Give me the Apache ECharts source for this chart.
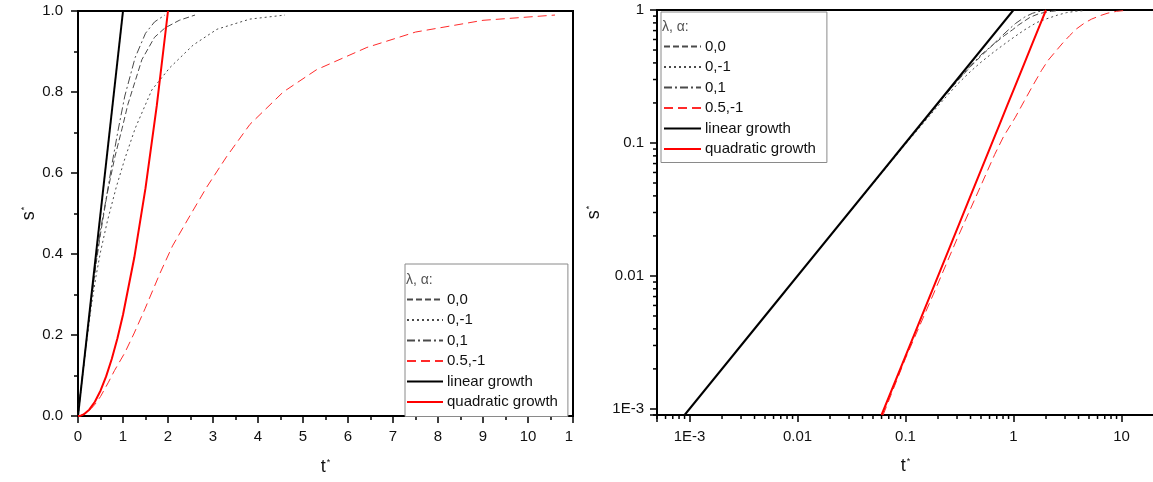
<!DOCTYPE html>
<html>
<head>
<meta charset="utf-8">
<script src="https://cdn.jsdelivr.net/npm/echarts@6/dist/echarts.min.js"></script>
<style>
  html, body { margin: 0; padding: 0; background: #fff; }
  #chart { width: 1153px; height: 482px; }
</style>
</head>
<body>
<div id="chart"></div>
<script>
// Front position s* against time t*, linear axes (left) and log-log axes (right)

const legendTitle = 'λ, α:';
const seriesNames = ['0,0', '0,-1', '0,1', '0.5,-1', 'linear growth', 'quadratic growth'];

// λ = 0, α = 0
const tL0A0 = [0, 0.0009, 0.01, 0.1, 0.2, 0.3, 0.4, 0.5, 0.65, 0.82, 0.98, 1.11, 1.42, 1.7, 1.93, 2.25, 2.6];
const sL0A0 = [0, 0.0009, 0.01, 0.1, 0.197, 0.29, 0.375, 0.45, 0.55, 0.64, 0.71, 0.77, 0.88, 0.935, 0.958, 0.977, 0.99];

// λ = 0, α = -1
const tL0Am1 = [0, 0.0009, 0.01, 0.1, 0.2, 0.3, 0.4, 0.5, 0.65, 0.85, 1.04, 1.27, 1.64, 2.04, 2.56, 3.09, 3.82, 4.6];
const sL0Am1 = [0, 0.0009, 0.01, 0.098, 0.19, 0.275, 0.345, 0.405, 0.48, 0.565, 0.635, 0.71, 0.805, 0.86, 0.916, 0.955, 0.98, 0.99];

// λ = 0, α = 1
const tL0A1 = [0, 0.0009, 0.01, 0.1, 0.2, 0.3, 0.4, 0.5, 0.64, 0.76, 0.89, 1.04, 1.27, 1.5, 1.7, 1.93];
const sL0A1 = [0, 0.0009, 0.01, 0.1, 0.198, 0.292, 0.38, 0.46, 0.545, 0.625, 0.705, 0.79, 0.885, 0.945, 0.973, 0.99];

// λ = 0.5, α = -1
const tL05Am1 = [0, 0.062, 0.1, 0.18, 0.3, 0.4, 0.5, 0.67, 0.81, 1.04, 1.25, 1.49, 1.82, 2.1, 2.49, 2.86, 3.3, 3.82, 4.56, 5.3, 6.42, 7.5, 9.0, 10.6];
const sL05Am1 = [0, 0.0009, 0.0024, 0.0072, 0.019, 0.032, 0.048, 0.082, 0.112, 0.156, 0.205, 0.265, 0.352, 0.42, 0.495, 0.565, 0.64, 0.72, 0.8, 0.855, 0.91, 0.948, 0.977, 0.99];

// reference growth laws
const tLinear = [0, 0.0009, 1];
const sLinear = [0, 0.0009, 1];
const tQuadratic = [0, 0.06, 0.125, 0.25, 0.375, 0.5, 0.625, 0.75, 0.875, 1, 1.25, 1.5, 1.75, 2];
const sQuadratic = [0, 0.0009, 0.0039, 0.0156, 0.0352, 0.0625, 0.0977, 0.1406, 0.1914, 0.25, 0.3906, 0.5625, 0.7656, 1];

// axis ticks
const linXTickLabels = ['0', '1', '2', '3', '4', '5', '6', '7', '8', '9', '10', '1'];
const logTickValues = [0.001, 0.01, 0.1, 1, 10];
const logTickLabels = ['1E-3', '0.01', '0.1', '1', '10'];
const xLogMin = 5e-4, xLogMax = 20;
const yLogMin = 9e-4, yLogMax = 1;

const FONT = '"Liberation Sans", Arial, sans-serif';
const INK = '#111';

const styles = {
  '0,0':              { color: '#4a4a4a', width: 1,   type: [6, 3] },
  '0,-1':             { color: '#4a4a4a', width: 1,   type: [2, 3] },
  '0,1':              { color: '#4a4a4a', width: 1,   type: [8, 3, 2, 3] },
  '0.5,-1':           { color: '#ff2a2a', width: 1,   type: [9, 5] },
  'linear growth':    { color: '#000000', width: 2,   type: 'solid' },
  'quadratic growth': { color: '#ff0000', width: 2,   type: 'solid' }
};

const curveData = {
  '0,0': [tL0A0, sL0A0],
  '0,-1': [tL0Am1, sL0Am1],
  '0,1': [tL0A1, sL0A1],
  '0.5,-1': [tL05Am1, sL05Am1],
  'linear growth': [tLinear, sLinear],
  'quadratic growth': [tQuadratic, sQuadratic]
};

function pairs(t, s, positiveOnly) {
  return t.map((v, i) => [v, s[i]])
          .filter(p => !positiveOnly || (p[0] > 0 && p[1] > 0));
}

function makeSeries(gridIdx, logScale) {
  return seriesNames.map(name => {
    const st = styles[name];
    const [t, s] = curveData[name];
    return {
      name: name,
      type: 'line',
      xAxisIndex: gridIdx,
      yAxisIndex: gridIdx,
      data: pairs(t, s, logScale),
      showSymbol: false,
      symbol: 'none',
      smooth: false,
      clip: true,
      color: st.color,
      lineStyle: { color: st.color, width: st.width, type: st.type },
      z: name.indexOf('growth') >= 0 ? 3 : 2
    };
  });
}

// minor ticks of the log axes at 2..9 × 10^n
function logMinorTicks(lo, hi) {
  const out = [];
  for (let e = -5; e <= 2; e++) {
    for (let k = 2; k <= 9; k++) {
      const v = k * Math.pow(10, e);
      if (v >= lo * 0.999 && v <= hi * 1.001) out.push(v);
    }
  }
  return out;
}

function logLabel(v) {
  for (let i = 0; i < logTickValues.length; i++) {
    if (Math.abs(v - logTickValues[i]) / logTickValues[i] < 1e-6) return logTickLabels[i];
  }
  return '';
}

const nameRich = {
  sup: { fontSize: 9, fontFamily: FONT, color: INK, verticalAlign: 'top', padding: [0, 0, 0, 1] }
};

const axisLine = { show: true, onZero: false, lineStyle: { color: '#000', width: 2 } };
const majorTick = { show: true, inside: false, length: 7, lineStyle: { color: '#000', width: 1.5 } };
const labelStyle = { color: INK, fontSize: 15, fontFamily: FONT };

const legendBase = {
  orient: 'vertical',
  data: seriesNames,
  itemWidth: 36,
  itemHeight: 14,
  itemGap: 5.5,
  backgroundColor: '#fff',
  borderColor: '#8a8a8a',
  borderWidth: 1,
  borderRadius: 0,
  selectedMode: false,
  itemStyle: { opacity: 0 },
  textStyle: { color: INK, fontSize: 15, fontFamily: FONT, padding: [0, 0, 0, -1] }
};

const option = {
  animation: false,
  backgroundColor: '#fff',
  title: [
    { text: legendTitle, left: 406, top: 273, padding: 0,
      textStyle: { color: '#555', fontSize: 14, fontWeight: 'normal', fontFamily: FONT } },
    { text: legendTitle, left: 662, top: 20, padding: 0,
      textStyle: { color: '#555', fontSize: 14, fontWeight: 'normal', fontFamily: FONT } }
  ],
  legend: [
    Object.assign({}, legendBase, { left: 405, top: 264, padding: [28, 10, 7, 1] }),
    Object.assign({}, legendBase, { left: 661, top: 12, padding: [27, 11, 6, 2], itemWidth: 37 })
  ],
  grid: [
    { left: 78, top: 11, width: 495, height: 405, show: true, borderColor: '#000', borderWidth: 2,
      containLabel: false, outerBoundsMode: 'none' },
    { left: 657, top: 10, width: 497, height: 405, show: true, borderColor: '#000', borderWidth: 2,
      containLabel: false, outerBoundsMode: 'none' }
  ],
  xAxis: [
    {
      gridIndex: 0, type: 'value', min: 0, max: 11, interval: 1,
      name: 't{sup|*}', nameLocation: 'middle', nameGap: 42,
      nameTextStyle: { fontSize: 18, fontFamily: FONT, color: INK, rich: nameRich },
      axisLine: axisLine, axisTick: majorTick,
      minorTick: { show: true, splitNumber: 2, length: 4, lineStyle: { color: '#000', width: 1.5 } },
      splitLine: { show: false }, minorSplitLine: { show: false },
      axisLabel: Object.assign({}, labelStyle, {
        margin: 13,
        formatter: v => {
          const i = Math.round(v);
          return i === linXTickLabels.length - 1 ? '{last|' + linXTickLabels[i] + '}' : linXTickLabels[i];
        },
        rich: { last: { fontSize: 15, fontFamily: FONT, color: INK, padding: [0, 8, 0, 0] } }
      })
    },
    {
      gridIndex: 1, type: 'log', logBase: 10, min: xLogMin, max: xLogMax,
      name: 't{sup|*}', nameLocation: 'middle', nameGap: 42,
      nameTextStyle: { fontSize: 18, fontFamily: FONT, color: INK, rich: nameRich },
      axisLine: axisLine, axisTick: majorTick,
      splitLine: { show: false }, minorSplitLine: { show: false },
      axisLabel: Object.assign({}, labelStyle, { margin: 14, formatter: logLabel, showMinLabel: true, showMaxLabel: true })
    }
  ],
  yAxis: [
    {
      gridIndex: 0, type: 'value', min: 0, max: 1, interval: 0.2,
      name: 's{sup|*}', nameLocation: 'middle', nameRotate: 90, nameGap: 31,
      nameTextStyle: { fontSize: 18, fontFamily: FONT, color: INK, rich: nameRich },
      axisLine: axisLine, axisTick: majorTick,
      minorTick: { show: true, splitNumber: 2, length: 4, lineStyle: { color: '#000', width: 1.5 } },
      splitLine: { show: false }, minorSplitLine: { show: false },
      axisLabel: Object.assign({}, labelStyle, { margin: 15, formatter: v => v.toFixed(1) })
    },
    {
      gridIndex: 1, type: 'log', logBase: 10, min: yLogMin, max: yLogMax,
      name: 's{sup|*}', nameLocation: 'middle', nameRotate: 90, nameGap: 54,
      nameTextStyle: { fontSize: 18, fontFamily: FONT, color: INK, rich: nameRich },
      axisLine: axisLine, axisTick: majorTick,
      splitLine: { show: false }, minorSplitLine: { show: false },
      axisLabel: Object.assign({}, labelStyle, { margin: 13, formatter: logLabel, showMinLabel: true, showMaxLabel: true })
    }
  ],
  series: [].concat(
    makeSeries(0, false),
    makeSeries(1, true),
    [
      {
        type: 'custom', name: 'xMinor', xAxisIndex: 1, yAxisIndex: 1, silent: true, clip: false,
        data: logMinorTicks(xLogMin, xLogMax).map(v => [v, 0.5]),
        renderItem: (params, api) => {
          const p = api.coord([api.value(0), yLogMin]);
          return { type: 'line', shape: { x1: p[0], y1: p[1], x2: p[0], y2: p[1] + 4 },
                   style: { stroke: '#000', lineWidth: 1.5 } };
        }
      },
      {
        type: 'custom', name: 'yMinor', xAxisIndex: 1, yAxisIndex: 1, silent: true, clip: false,
        data: logMinorTicks(yLogMin, yLogMax).map(v => [0.5, v]),
        renderItem: (params, api) => {
          const p = api.coord([xLogMin, api.value(1)]);
          return { type: 'line', shape: { x1: p[0] - 4, y1: p[1], x2: p[0], y2: p[1] },
                   style: { stroke: '#000', lineWidth: 1.5 } };
        }
      }
    ]
  )
};

const chart = echarts.init(document.getElementById('chart'), null, { renderer: 'canvas' });
chart.setOption(option);
</script>
</body>
</html>
